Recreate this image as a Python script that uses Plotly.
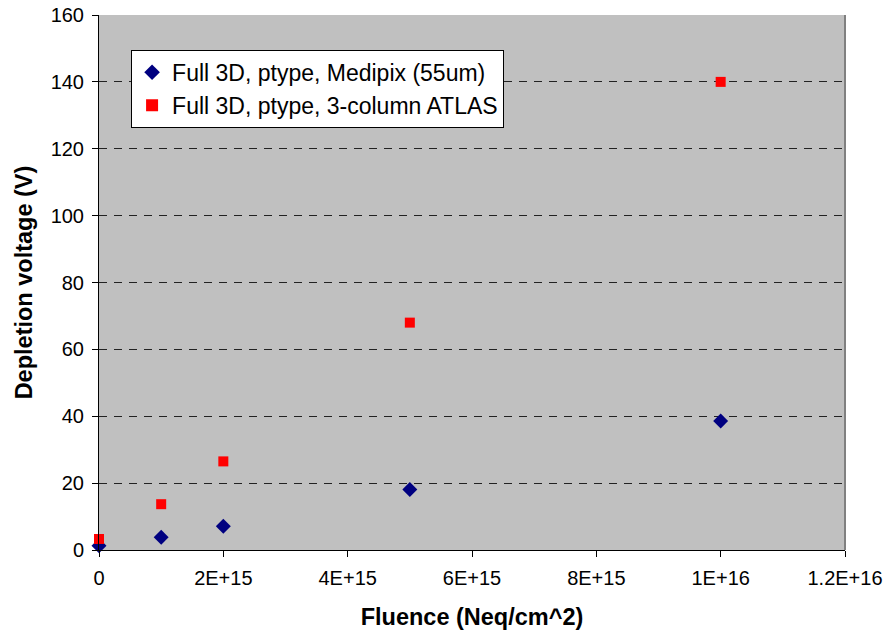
import plotly.graph_objects as go

# Fluence points (neq/cm^2) and measured depletion voltages (V)
fluence = [0, 1e15, 2e15, 5e15, 1e16]
medipix_v = [1.3, 3.8, 7.1, 18.1, 38.6]
atlas_v = [3.3, 13.7, 26.5, 68.0, 140.0]

x_tickvals = [0, 2e15, 4e15, 6e15, 8e15, 1e16, 1.2e16]
x_ticktext = ["0", "2E+15", "4E+15", "6E+15", "8E+15", "1E+16", "1.2E+16"]
y_tickvals = [0, 20, 40, 60, 80, 100, 120, 140, 160]

fig = go.Figure()
fig.add_trace(go.Scatter(
    x=fluence, y=medipix_v, mode="markers",
    name="Full 3D, ptype, Medipix (55um)",
    marker=dict(symbol="diamond", size=11.5, color="#000080"),
    cliponaxis=False,
))
fig.add_trace(go.Scatter(
    x=fluence, y=atlas_v, mode="markers",
    name="Full 3D, ptype, 3-column ATLAS",
    marker=dict(symbol="square", size=10, color="#FF0000"),
    cliponaxis=False,
))

font_family = "Liberation Sans, Arial, sans-serif"

fig.update_layout(
    width=896, height=630,
    margin=dict(l=99, r=51, t=15, b=80),
    paper_bgcolor="white",
    plot_bgcolor="#C0C0C0",
    font=dict(family=font_family, size=20, color="black"),
    showlegend=True,
    legend=dict(
        x=0.043, y=0.935, xanchor="left", yanchor="top",
        bgcolor="white", bordercolor="black", borderwidth=1,
        font=dict(size=23, family=font_family),
        tracegroupgap=0, itemsizing="constant",
    ),
    xaxis=dict(
        range=[0, 1.2e16],
        tickvals=x_tickvals, ticktext=x_ticktext,
        ticks="outside", ticklen=6, tickcolor="black",
        showline=True, linecolor="black", linewidth=1,
        showgrid=False, zeroline=False, automargin=False,
        ticklabelstandoff=4,
        title=dict(text="<b>Fluence (Neq/cm^2)</b>", font=dict(size=23.5), standoff=24),
        tickfont=dict(size=20),
    ),
    yaxis=dict(
        range=[0, 160],
        tickvals=y_tickvals,
        ticks="outside", ticklen=6, tickcolor="black",
        showline=True, linecolor="black", linewidth=1,
        showgrid=True, gridcolor="#222222", griddash="8px,7px", gridwidth=1,
        zeroline=False, automargin=False,
        ticklabelstandoff=4,
        title=dict(text="<b>Depletion voltage (V)</b>", font=dict(size=23.5), standoff=11),
        tickfont=dict(size=20),
    ),
)

# Right-hand frame edge of the plotting area
fig.add_shape(type="line", xref="paper", yref="paper", x0=1, x1=1, y0=0, y1=1,
              line=dict(color="#808080", width=2))

fig.write_html("out.html")
